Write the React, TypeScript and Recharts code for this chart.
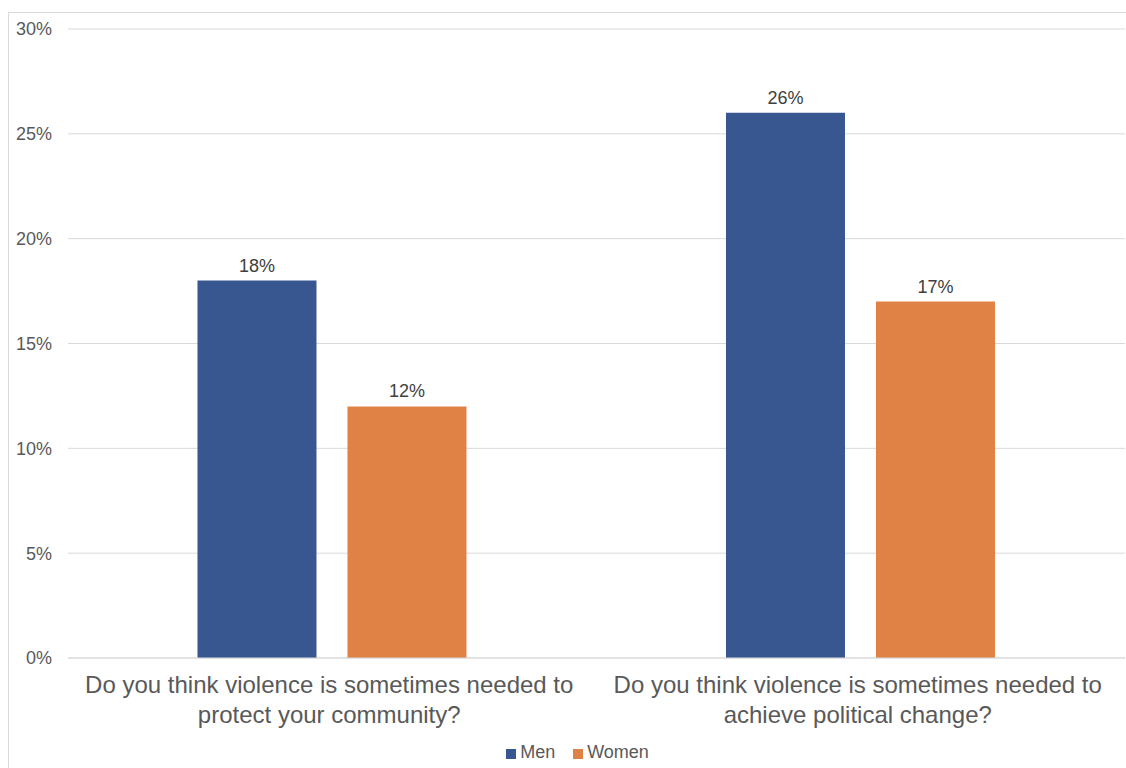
import React from "react";
import { BarChart, Bar, XAxis, YAxis, CartesianGrid, Legend, LabelList } from "recharts";

const categories = [
  ["Do you think violence is sometimes needed to", "protect your community?"],
  ["Do you think violence is sometimes needed to", "achieve political change?"],
];
const menValues = [18, 26];
const womenValues = [12, 17];
const yTicks = [0, 5, 10, 15, 20, 25, 30];

const data = categories.map((c, i) => ({
  name: c.join(" "),
  Men: menValues[i],
  Women: womenValues[i],
}));

const FONT = "'Liberation Sans', Arial, Helvetica, sans-serif";

const CatTick = (props: any) => {
  const { x, y, payload, index } = props;
  const lines = categories[index] || [String(payload.value)];
  return (
    <text x={x - 3} y={y} textAnchor="middle" fill="#595959" fontSize={24} fontFamily={FONT}>
      {lines.map((l: string, i: number) => (
        <tspan key={i} x={x - 3} dy={i === 0 ? 27 : 30}>{l}</tspan>
      ))}
    </text>
  );
};

export default function App() {
  return (
    <div style={{ position: "absolute", left: 0, top: 0, width: 1126, height: 768, background: "#fff", overflow: "hidden" }}>
      <div style={{ position: "absolute", left: 8, top: 12, width: 1126, height: 768, borderLeft: "1px solid #d9d9d9", borderTop: "1px solid #d9d9d9" }} />
      <div style={{ position: "absolute", left: 0, top: 0 }}>
        <BarChart
          width={1126}
          height={768}
          data={data}
          margin={{ top: 29, right: 1, left: 0, bottom: 0 }}
          barGap={31}
          barCategoryGap="24.5%"
        >
          <CartesianGrid horizontal vertical={false} stroke="#d9d9d9" />
          <YAxis
            width={68}
            domain={[0, 30]}
            ticks={yTicks}
            tickFormatter={(v: number) => `${v}%`}
            axisLine={false}
            tickLine={false}
            tickMargin={10}
            tick={{ fill: "#595959", fontSize: 18, fontFamily: FONT }}
          />
          <XAxis
            dataKey="name"
            height={80}
            axisLine={{ stroke: "#d9d9d9" }}
            tickLine={false}
            interval={0}
            tick={<CatTick />}
          />
          <Legend
            verticalAlign="bottom"
            height={30}
            iconType="square"
            iconSize={10}
            wrapperStyle={{ left: 24, bottom: -4 }}
            formatter={(v: string) => (
              <span style={{ color: "#595959", fontSize: 18, fontFamily: FONT, marginRight: 8 }}>{v}</span>
            )}
          />
          <Bar dataKey="Men" fill="#38568F" isAnimationActive={false}>
            <LabelList dataKey="Men" position="top" offset={9} formatter={(v: number) => `${v}%`} fill="#404040" fontSize={18} fontFamily={FONT} />
          </Bar>
          <Bar dataKey="Women" fill="#E08246" isAnimationActive={false}>
            <LabelList dataKey="Women" position="top" offset={9} formatter={(v: number) => `${v}%`} fill="#404040" fontSize={18} fontFamily={FONT} />
          </Bar>
        </BarChart>
      </div>
    </div>
  );
}
